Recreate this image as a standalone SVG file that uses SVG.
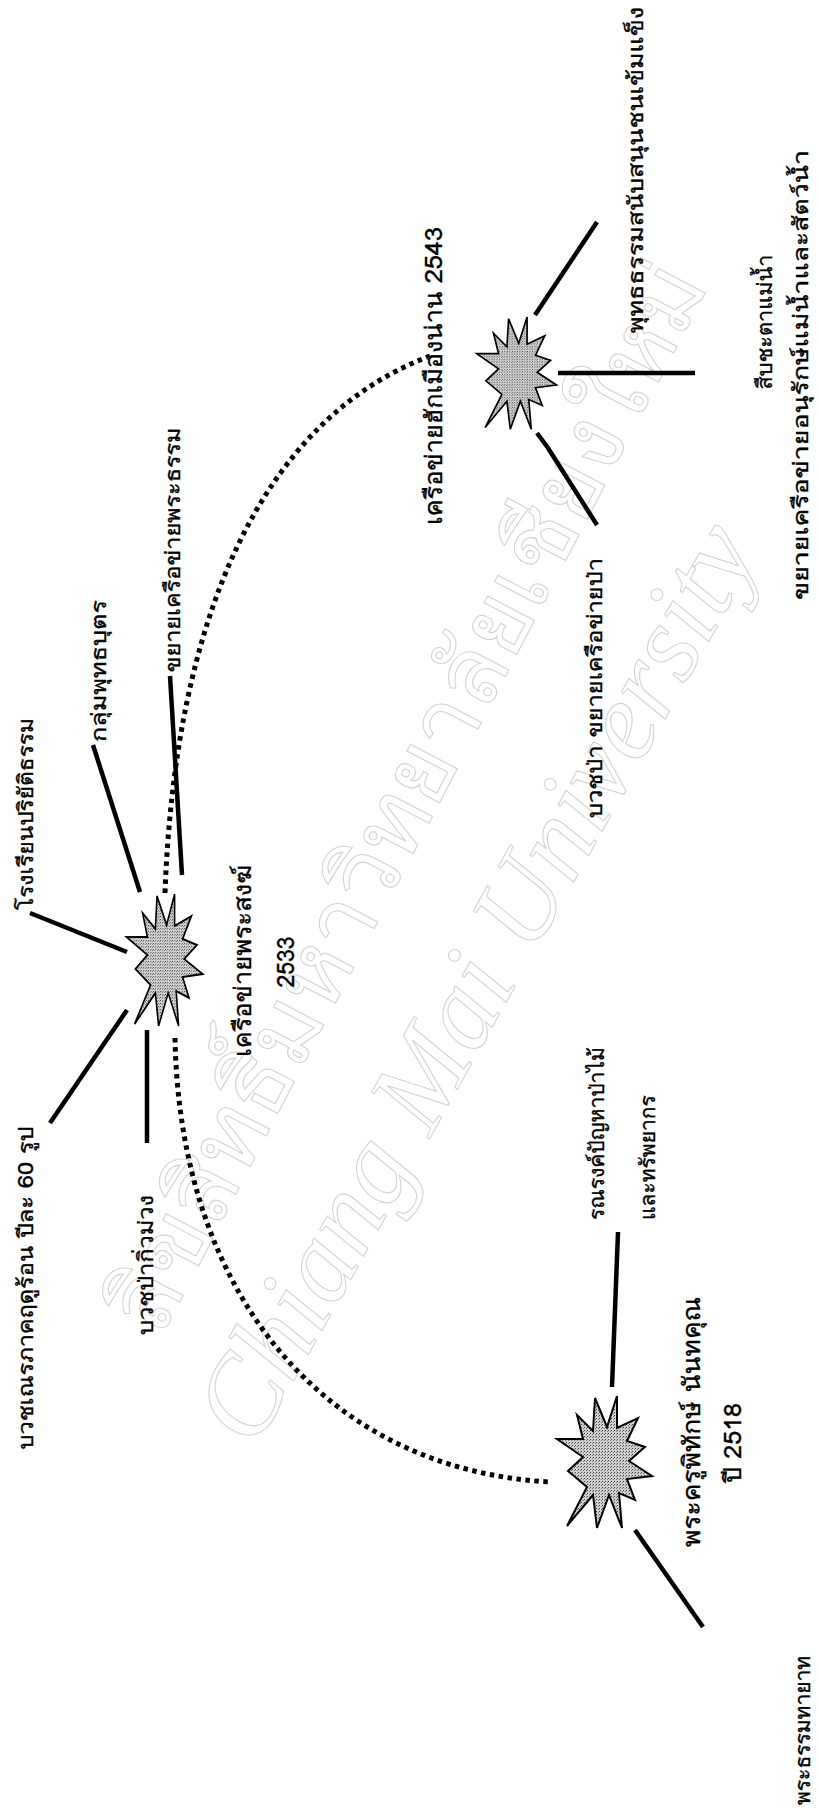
<svg xmlns="http://www.w3.org/2000/svg" width="818" height="1809" viewBox="0 0 818 1809">
<style>
.t{font-family:'Loma','Garuda','Norasi','Noto Sans Thai Looped','Noto Sans Thai','Noto Sans',sans-serif;font-size:21px;fill:#000;stroke:#000;stroke-width:0.35}
.n{font-size:24px}
.ln{stroke:#000;stroke-width:4.5;fill:none}
.dt{stroke:#000;stroke-width:5;stroke-dasharray:4.5 4.5;fill:none}
.st{fill:url(#stip);stroke:#000;stroke-width:2;stroke-linejoin:miter}
.wm{fill:none;stroke:#d4d4d4;stroke-width:1.1}
</style>
<defs>
<pattern id="stip" width="3" height="3" patternUnits="userSpaceOnUse">
<rect width="3" height="3" fill="#cfcfcf"/>
<rect width="1" height="1" fill="#444"/>
<rect x="2" y="1" width="1" height="1" fill="#777"/>
</pattern>
<path id="star" d="M12,-67 L12,-35 L33,-45 L22,-22 L40,-16 L24,-2 L47,13 L22,16 L30,37 L14,30 L17,65 L4,32 L-8,65 L-12,32 L-38,63 L-18,24 L-37,8 L-22,-6 L-48,-24 L-22,-24 L-28,-48 L-12,-32 L-10,-65 L2,-36 Z"/>
</defs>
<rect width="818" height="1809" fill="#fff"/>

<g id="watermark">
<text class="wm" transform="translate(255,1450) rotate(-60.7)" font-family="'Liberation Serif',serif" font-style="italic" font-size="112">Chiang Mai University</text>
<text class="wm" transform="translate(160,1340) rotate(-62.5)" font-family="'Loma','Garuda','Noto Sans Thai Looped','Noto Sans Thai',sans-serif" font-size="95">ลิขสิทธิ์มหาวิทยาลัยเชียงใหม่</text>
</g>

<g id="connectors">
<path class="dt" d="M165,893 C175,620 260,420 430,356"/>
<path class="dt" d="M175,1038 C180,1300 330,1470 550,1482"/>
<path class="ln" d="M535,315 L597,222"/>
<path class="ln" d="M558,373 L695,373"/>
<path class="ln" d="M537,433 L548,448 L597,525"/>
<path class="ln" d="M127,952 L30,913"/>
<path class="ln" d="M140,892 L93,745"/>
<path class="ln" d="M182,875 L170,676"/>
<path class="ln" d="M127,1010 L50,1123"/>
<path class="ln" d="M147,1030 L147,1143"/>
<path class="ln" d="M618,1232 L612,1387"/>
<path class="ln" d="M635,1530 L703,1627"/>
</g>

<g id="node-2543">
<use href="#star" class="st" transform="translate(517,374) scale(0.84,0.85)"/>
<text class="t n" transform="translate(433,376) rotate(-90)" text-anchor="middle" dominant-baseline="central" textLength="298" lengthAdjust="spacingAndGlyphs">เครือข่ายฮักเมืองน่าน 2543</text>
</g>
<g id="leaf-buddhadhamma">
<text class="t" transform="translate(635,170) rotate(-90)" text-anchor="middle" dominant-baseline="central" textLength="326" lengthAdjust="spacingAndGlyphs">พุทธธรรมสนับสนุนชนเข้มแข็ง</text>
</g>
<g id="leaf-river">
<text class="t" transform="translate(764,322) rotate(-90)" text-anchor="middle" dominant-baseline="central" textLength="135" lengthAdjust="spacingAndGlyphs">สืบชะตาแม่น้ำ</text>
<text class="t" transform="translate(800,375) rotate(-90)" text-anchor="middle" dominant-baseline="central" textLength="450" lengthAdjust="spacingAndGlyphs">ขยายเครือข่ายอนุรักษ์แม่น้ำและสัตว์น้ำ</text>
</g>
<g id="leaf-forest">
<text class="t" transform="translate(594,688) rotate(-90)" text-anchor="middle" dominant-baseline="central" textLength="260" lengthAdjust="spacingAndGlyphs">บวชป่า ขยายเครือข่ายป่า</text>
</g>

<g id="node-2533">
<use href="#star" class="st" transform="translate(165,961) scale(0.8,1)"/>
<text class="t n" transform="translate(242,961) rotate(-90)" text-anchor="middle" dominant-baseline="central" textLength="192" lengthAdjust="spacingAndGlyphs">เครือข่ายพระสงฆ์</text>
<text class="t n" transform="translate(285,962) rotate(-90)" text-anchor="middle" dominant-baseline="central" textLength="51" lengthAdjust="spacingAndGlyphs">2533</text>
</g>
<g id="leaf-dhamma">
<text class="t" transform="translate(172,550) rotate(-90)" text-anchor="middle" dominant-baseline="central" textLength="245" lengthAdjust="spacingAndGlyphs">ขยายเครือข่ายพระธรรม</text>
</g>
<g id="leaf-buddhabutr">
<text class="t" transform="translate(98,671) rotate(-90)" text-anchor="middle" dominant-baseline="central" textLength="142" lengthAdjust="spacingAndGlyphs">กลุ่มพุทธบุตร</text>
</g>
<g id="leaf-school">
<text class="t" transform="translate(25,814) rotate(-90)" text-anchor="middle" dominant-baseline="central" textLength="192" lengthAdjust="spacingAndGlyphs">โรงเรียนปริยัติธรรม</text>
</g>
<g id="leaf-novice">
<text class="t" transform="translate(25,1288) rotate(-90)" text-anchor="middle" dominant-baseline="central" textLength="323" lengthAdjust="spacingAndGlyphs">บวชเณรภาคฤดูร้อน ปีละ 60 รูป</text>
</g>
<g id="leaf-kiwmuang">
<text class="t" transform="translate(145,1265) rotate(-90)" text-anchor="middle" dominant-baseline="central" textLength="140" lengthAdjust="spacingAndGlyphs">บวชป่ากิ่วม่วง</text>
</g>

<g id="node-2518">
<use href="#star" class="st" transform="translate(605,1463)"/>
<text class="t n" transform="translate(691,1422) rotate(-90)" text-anchor="middle" dominant-baseline="central" textLength="250" lengthAdjust="spacingAndGlyphs">พระครูพิทักษ์ นันทคุณ</text>
<text class="t n" transform="translate(732,1443) rotate(-90)" text-anchor="middle" dominant-baseline="central" textLength="80" lengthAdjust="spacingAndGlyphs">ปี 2518</text>
</g>
<g id="leaf-campaign">
<text class="t" transform="translate(596,1220) rotate(-90)" dominant-baseline="central">รณรงค์ปัญหาป่าไม้</text>
<text class="t" transform="translate(647,1220) rotate(-90)" dominant-baseline="central">และทรัพยากร</text>
</g>
<g id="leaf-heir">
<text class="t" transform="translate(802,1805) rotate(-90)" dominant-baseline="central">พระธรรมทายาท</text>
</g>
</svg>
